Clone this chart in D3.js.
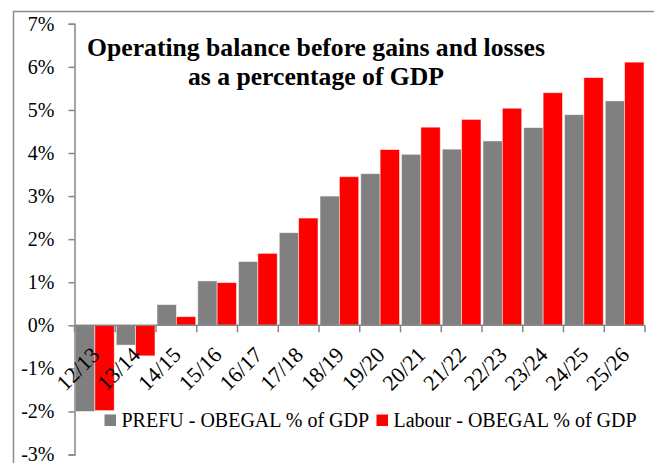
<!DOCTYPE html>
<html>
<head>
<meta charset="utf-8">
<script src="https://cdn.jsdelivr.net/npm/d3@7"></script>
<style>
  html, body { margin: 0; padding: 0; background: #fff; }
  svg { display: block; }
  text { font-family: "Liberation Serif", "Times New Roman", serif; fill: #000; }
</style>
</head>
<body>
<svg id="chart" width="654" height="463"></svg>
<script>
const categories = ["12/13","13/14","14/15","15/16","16/17","17/18","18/19","19/20","20/21","21/22","22/23","23/24","24/25","25/26"];
const prefu  = [-2.00, -0.46, 0.48, 1.03, 1.48, 2.15, 3.00, 3.52, 3.97, 4.09, 4.28, 4.59, 4.89, 5.21];
const labour = [-1.98, -0.71, 0.20, 0.99, 1.67, 2.49, 3.45, 4.08, 4.60, 4.78, 5.04, 5.40, 5.75, 6.11];
const seriesNames = ["PREFU - OBEGAL % of GDP", "Labour - OBEGAL % of GDP"];
const seriesColors = ["#808080", "#ff0000"];
const yTicks = [-3, -2, -1, 0, 1, 2, 3, 4, 5, 6, 7];
const titleLines = ["Operating balance before gains and losses", "as a percentage of GDP"];

const svg = d3.select("#chart");
const axisColor = "#878787";

// outer frame (clipped by the picture edges)
svg.append("rect")
  .attr("x", 13.5).attr("y", 11.5)
  .attr("width", 800).attr("height", 600)
  .attr("fill", "none").attr("stroke", "#8c8c8c").attr("stroke-width", 1.5);

const plotLeft = 74.5, plotRight = 645;
const y = d3.scaleLinear().domain([-3, 7]).range([454.5, 23.8]);
const x0 = d3.scaleBand().domain(categories).range([plotLeft, plotRight]).paddingInner(0.05).paddingOuter(0.025);
const x1 = d3.scaleBand().domain([0, 1]).range([0, x0.bandwidth()]);

// bars
const data = categories.map((c, i) => ({ c, vals: [prefu[i], labour[i]] }));
const groups = svg.append("g").selectAll("g").data(data).join("g")
  .attr("transform", d => `translate(${x0(d.c)},0)`);
groups.selectAll("rect").data(d => d.vals.map((v, k) => ({ v, k }))).join("rect")
  .attr("x", d => x1(d.k))
  .attr("width", x1.bandwidth())
  .attr("y", d => y(Math.max(0, d.v)))
  .attr("height", d => Math.abs(y(d.v) - y(0)))
  .attr("fill", d => seriesColors[d.k])
  .attr("stroke", "#ffffff").attr("stroke-opacity", 0.6).attr("stroke-width", 0.8);

// y axis
const yAxis = d3.axisLeft(y).tickValues(yTicks).tickSize(6).tickPadding(14)
  .tickFormat(d => d + "%");
const gy = svg.append("g").attr("transform", `translate(${plotLeft},0)`).call(yAxis);
gy.select(".domain").attr("stroke", axisColor).attr("stroke-width", 1.5);
gy.selectAll(".tick line").attr("stroke", axisColor).attr("stroke-width", 1.5);
gy.selectAll(".tick text").attr("font-size", 20).attr("font-family", "Liberation Serif");

// x axis at zero line, ticks at category boundaries
const step = (plotRight - plotLeft) / categories.length;
const xAxisG = svg.append("g");
xAxisG.append("line")
  .attr("x1", plotLeft).attr("x2", plotRight)
  .attr("y1", y(0)).attr("y2", y(0))
  .attr("stroke", axisColor).attr("stroke-width", 1.5);
const boundaries = d3.range(categories.length + 1).map(i => plotLeft + i * step);
xAxisG.selectAll("line.tk").data(boundaries).join("line").attr("class", "tk")
  .attr("x1", d => d).attr("x2", d => d)
  .attr("y1", y(0)).attr("y2", y(0) + 7)
  .attr("stroke", axisColor).attr("stroke-width", 1.5);
// negative bars cover the ticks in the reference
groups.filter(d => d.vals.some(v => v < 0)).raise();

svg.append("g").selectAll("text").data(categories).join("text")
  .attr("transform", d => `translate(${x0(d) + x0.bandwidth() / 2 + 6},${y(0) + 31}) rotate(-45)`)
  .attr("text-anchor", "end")
  .attr("font-size", 22)
  .text(d => d);

// title
const title = svg.append("g");
const tl = title.selectAll("text").data(titleLines).join("text")
  .attr("x", 316).attr("y", (d, i) => 56 + i * 28.5)
  .attr("text-anchor", "middle")
  .attr("font-weight", "bold")
  .attr("font-size", 24)
  .text(d => d);
const w0 = tl.nodes()[0].getComputedTextLength();
const fs = 24 * 458 / w0;
tl.attr("font-size", fs);

// legend
const legendItems = [
  { name: seriesNames[0], color: seriesColors[0], x: 104.5 },
  { name: seriesNames[1], color: seriesColors[1], x: 376.5 }
];
const lg = svg.append("g").selectAll("g").data(legendItems).join("g")
  .attr("transform", d => `translate(${d.x},414.5)`);
lg.append("rect").attr("width", 11.5).attr("height", 11.5).attr("fill", d => d.color);
lg.append("text").attr("x", 17).attr("y", 12).attr("font-size", 20).text(d => d.name);
</script>
</body>
</html>
